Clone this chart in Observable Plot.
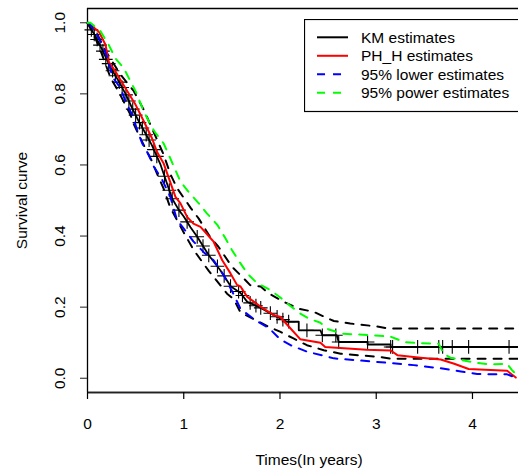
<!DOCTYPE html>
<html><head><meta charset="utf-8">
<script src="https://cdn.jsdelivr.net/npm/d3@7"></script>
<script src="https://cdn.jsdelivr.net/npm/@observablehq/plot@0.6"></script>
<style>
html,body{margin:0;padding:0;background:#fff;overflow:hidden}
#wrap{position:relative;width:518px;height:470px;overflow:hidden;font-family:"Liberation Sans",Arial,sans-serif}
#legend{position:absolute;left:304px;top:19px}
</style></head><body><div id="wrap"></div>
<script>
// ---- data ----
const xTicks = [0, 1, 2, 3, 4];
const yTicks = [0, 0.2, 0.4, 0.6, 0.8, 1.0];
const xLabel = "Times(In years)";
const yLabel = "Survival curve";
const seriesNames = ["KM estimates", "PH_H estimates", "95% lower estimates", "95% power estimates"];
const seriesColors = ["#000000", "#ff0000", "#0000ff", "#00ff00"];
const seriesDash = [null, null, "8,8", "8,8"];

// Kaplan-Meier estimate [time, survival]
const km = [[0,1],[0.03,0.985],[0.083,0.962],[0.15,0.926],[0.24,0.874],[0.325,0.835],[0.395,0.80],[0.46,0.762],[0.53,0.724],[0.60,0.69],[0.67,0.655],[0.76,0.60],[0.88,0.505],[0.95,0.473],[1.0,0.455],[1.07,0.425],[1.14,0.398],[1.26,0.346],[1.38,0.304],[1.49,0.258],[1.59,0.24],[1.66,0.215],[1.80,0.198],[1.94,0.177],[2.07,0.159],[2.195,0.159],[2.195,0.135],[2.42,0.135],[2.44,0.121],[2.59,0.121],[2.61,0.102],[2.91,0.102],[2.91,0.095],[3.15,0.095],[3.15,0.088],[4.47,0.088]];
// KM confidence band (black dashed)
const kmUpper = [[0,1],[0.06,0.99],[0.19,0.92],[0.343,0.854],[0.48,0.808],[0.585,0.755],[0.67,0.703],[0.79,0.63],[0.86,0.575],[0.93,0.535],[1.07,0.48],[1.156,0.449],[1.28,0.395],[1.36,0.37],[1.42,0.346],[1.50,0.314],[1.59,0.29],[1.69,0.262],[1.80,0.258],[1.88,0.239],[2.04,0.215],[2.2,0.195],[2.35,0.187],[2.46,0.173],[2.56,0.161],[2.73,0.154],[3.0,0.146],[3.13,0.14],[4.47,0.14]];
const kmLower = [[0,1],[0.05,0.975],[0.117,0.935],[0.24,0.845],[0.325,0.805],[0.447,0.741],[0.48,0.715],[0.55,0.675],[0.60,0.647],[0.67,0.61],[0.72,0.577],[0.79,0.534],[0.86,0.48],[1.0,0.41],[1.10,0.362],[1.19,0.328],[1.26,0.302],[1.35,0.272],[1.45,0.238],[1.52,0.222],[1.59,0.185],[1.76,0.162],[1.88,0.145],[2.0,0.131],[2.14,0.112],[2.28,0.093],[2.455,0.079],[2.63,0.069],[3.04,0.06],[3.15,0.055],[4.47,0.055]];
// PH_H estimates (red)
const phH = [[0,1],[0.03,0.995],[0.12,0.974],[0.187,0.938],[0.22,0.89],[0.29,0.863],[0.395,0.816],[0.50,0.769],[0.585,0.723],[0.67,0.675],[0.72,0.638],[0.79,0.605],[0.914,0.51],[0.966,0.492],[1.035,0.454],[1.10,0.435],[1.174,0.426],[1.295,0.389],[1.31,0.384],[1.40,0.332],[1.486,0.295],[1.555,0.262],[1.59,0.258],[1.66,0.229],[1.80,0.201],[1.94,0.177],[2.0,0.173],[2.11,0.14],[2.21,0.11],[2.42,0.100],[2.47,0.088],[2.9,0.08],[3.15,0.078],[3.22,0.065],[3.46,0.058],[3.67,0.053],[3.81,0.041],[3.96,0.026],[4.36,0.021],[4.45,0.002]];
// 95% lower estimates (blue dashed)
const lower95 = [[0,1],[0.02,0.998],[0.1,0.966],[0.17,0.928],[0.22,0.89],[0.256,0.849],[0.343,0.816],[0.395,0.779],[0.464,0.741],[0.516,0.699],[0.568,0.661],[0.637,0.628],[0.69,0.595],[0.776,0.558],[0.86,0.511],[0.93,0.445],[1.0,0.421],[1.10,0.385],[1.21,0.354],[1.31,0.332],[1.42,0.288],[1.52,0.235],[1.59,0.195],[1.73,0.166],[1.89,0.14],[2.0,0.11],[2.11,0.093],[2.28,0.075],[2.56,0.056],[2.97,0.047],[3.39,0.037],[3.67,0.028],[3.88,0.019],[4.05,0.012],[4.36,0.011],[4.45,0.002]];
// 95% power estimates (green dashed)
const power95 = [[0,1],[0.03,1.0],[0.135,0.976],[0.22,0.938],[0.29,0.90],[0.377,0.872],[0.50,0.807],[0.585,0.751],[0.655,0.713],[0.706,0.69],[0.79,0.661],[0.845,0.628],[0.966,0.553],[1.05,0.524],[1.156,0.492],[1.24,0.464],[1.35,0.431],[1.43,0.395],[1.50,0.361],[1.59,0.323],[1.66,0.295],[1.76,0.268],[1.90,0.248],[2.0,0.228],[2.1,0.205],[2.21,0.182],[2.3,0.168],[2.42,0.156],[2.5,0.138],[2.66,0.125],[2.97,0.121],[3.15,0.117],[3.29,0.102],[3.43,0.099],[3.65,0.097],[3.70,0.069],[3.77,0.058],[3.875,0.052],[4.05,0.043],[4.19,0.039],[4.36,0.041],[4.41,0.023],[4.45,0.012]];
// censoring marks on the KM curve [time, survival]
const censored = [[0.04,0.98],[0.07,0.967],[0.10,0.953],[0.13,0.937],[0.16,0.92],[0.19,0.897],[0.22,0.885],[0.26,0.865],[0.29,0.851],[0.33,0.833],[0.36,0.818],[0.40,0.797],[0.43,0.78],[0.47,0.757],[0.50,0.74],[0.54,0.719],[0.57,0.704],[0.61,0.685],[0.64,0.67],[0.69,0.643],[0.72,0.624],[0.80,0.568],[0.85,0.529],[0.88,0.505],[0.95,0.473],[1.035,0.44],[1.14,0.398],[1.20,0.372],[1.26,0.346],[1.35,0.315],[1.42,0.288],[1.486,0.259],[1.57,0.244],[1.61,0.233],[1.69,0.212],[1.75,0.204],[1.80,0.198],[1.90,0.183],[1.97,0.173],[2.03,0.165],[2.09,0.159],[2.28,0.135],[2.44,0.121],[2.58,0.121],[2.61,0.102],[2.91,0.102],[3.15,0.088],[3.17,0.088],[3.43,0.088],[3.65,0.088],[3.69,0.088],[3.79,0.088],[3.96,0.088],[4.38,0.088]];

const xDomain = [0, 4.5];
const yDomain = [-0.04, 1.04];
const FS = 15.5;

const chart = Plot.plot({
  width: 518, height: 470,
  marginLeft: 87, marginRight: 0, marginTop: 8, marginBottom: 78,
  style: {fontSize: FS + "px", fontFamily: "'Liberation Sans', Arial, sans-serif", background: "#fff", overflow: "hidden"},
  x: {domain: xDomain, range: [87, 520.1]},
  y: {domain: yDomain},
  marks: [
    // plot box
    Plot.ruleY([yDomain[0], yDomain[1]], {stroke: "#000", strokeWidth: 1.3}),
    Plot.ruleX([xDomain[0]], {stroke: "#000", strokeWidth: 1.3}),
    // axes
    Plot.ruleY([yDomain[0]], {x1: xTicks[0], x2: xTicks[xTicks.length - 1], stroke: "#222", strokeWidth: 1.6}),
    Plot.axisX({ticks: xTicks, tickSize: 7, tickFormat: () => "", stroke: "#000", strokeWidth: 1.2}),
    Plot.axisY({ticks: yTicks, tickSize: 7, tickFormat: () => "", stroke: "#444", strokeWidth: 1.2}),
    Plot.text(xTicks, {x: d => d, frameAnchor: "bottom", dy: 31.3, text: d => String(d), lineAnchor: "middle", fill: "#000"}),
    Plot.text(yTicks, {y: d => d, frameAnchor: "left", dx: -27, rotate: -90, text: d => d.toFixed(1), textAnchor: "middle", lineAnchor: "middle", fill: "#000"}),
    Plot.text([xLabel], {frameAnchor: "bottom", dx: 6, dy: 68, lineAnchor: "middle", fill: "#000"}),
    Plot.text([yLabel], {frameAnchor: "left", dx: -65.5, rotate: -90, textAnchor: "middle", lineAnchor: "middle", fill: "#000"}),
    // curves
    Plot.line(kmUpper, {stroke: "#000", strokeWidth: 2, strokeDasharray: "8,8"}),
    Plot.line(kmLower, {stroke: "#000", strokeWidth: 2, strokeDasharray: "8,8"}),
    Plot.line(km, {stroke: seriesColors[0], strokeWidth: 1.8}),
    Plot.dot(censored, {symbol: "plus", r: 4.5, stroke: "#000", strokeWidth: 1.1}),
    Plot.line(phH, {stroke: seriesColors[1], strokeWidth: 2}),
    Plot.line(lower95, {stroke: seriesColors[2], strokeWidth: 2, strokeDasharray: seriesDash[2]}),
    Plot.line(power95, {stroke: seriesColors[3], strokeWidth: 2, strokeDasharray: seriesDash[3]})
  ]
});
const wrap = document.getElementById("wrap");
wrap.appendChild(chart);

// legend (inside the plot, top right, cut by the right edge as in the reference)
const lg = d3.select(wrap).append("svg").attr("id", "legend")
  .attr("width", 240).attr("height", 94)
  .style("font-family", "'Liberation Sans', Arial, sans-serif");
lg.append("rect").attr("x", 0.5).attr("y", 0.5).attr("width", 260).attr("height", 92)
  .attr("fill", "#fff").attr("stroke", "#000").attr("stroke-width", 1.2);
seriesNames.forEach((name, i) => {
  const cy = 18.3 + i * 18.5;
  lg.append("line").attr("x1", 13).attr("x2", 44).attr("y1", cy).attr("y2", cy)
    .attr("stroke", seriesColors[i]).attr("stroke-width", 2)
    .attr("stroke-dasharray", seriesDash[i]);
  lg.append("text").attr("x", 57).attr("y", cy).attr("dy", "0.35em")
    .attr("font-size", FS).attr("fill", "#000").text(name);
});
</script></body></html>
